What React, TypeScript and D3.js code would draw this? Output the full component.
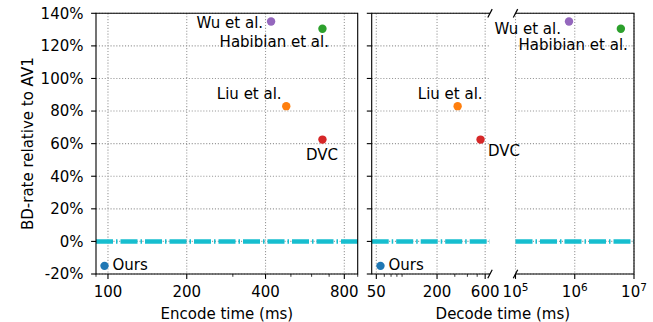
import * as d3 from "d3";

// data
const methods = ["Ours", "Liu et al.", "DVC", "Wu et al.", "Habibian et al."];
const colors = ["#1f77b4", "#ff7f0e", "#d62728", "#9467bd", "#2ca02c"];
const bdRate = [-15, 83, 62.5, 135, 130.5];
const encodeMs = [97, 480, 660, 420, 660];
const decodeMs = [55, 320, 540, 8e5, 6e6];

const yTicks = [-20, 0, 20, 40, 60, 80, 100, 120, 140];
const encMajor = [100, 200, 400, 800];
const encMinor = [90, 300, 500, 600, 700, 900];
const decLoMajor = [50, 200, 600];
const decLoMinor = [60, 70, 80, 90, 300, 400, 500];
const decHiMajor = [1e5, 1e6, 1e7];

// label placement (dx, baseline dy, anchor) per panel
const encLabels = [
  [8, 4, "start"],
  [-4.6, -7, "end"],
  [-0.5, 20.5, "middle"],
  [-8, 7, "end"],
  [6.5, 18, "end"],
];
const decLabels = [
  [8, 4, "start"],
  [25, -7, "end"],
  [7.5, 16.5, "start"],
  [-8, 13, "end"],
  [7, 21.5, "end"],
];

const W = 653;
const H = 322;
const top = 13.3;
const bottom = 274;
const font = "DejaVu Sans, sans-serif";
const fs = 15;
const gridColor = "#999";

const y = d3.scaleLinear().domain([-20, 140]).range([bottom, top]);
const encX = d3.scaleLog().domain([90, 900]).range([96, 357.7]);
const decLo = d3.scaleLog().domain([45, 670]).range([371.7, 490]);
const decHi = d3.scaleLog().domain([1e5, 1e7]).range([515.5, 634]);

const Grid = ({ x, majors }) => {
  const [x0, x1] = x.range();
  return (
    <g stroke={gridColor} strokeWidth={1.1} strokeDasharray="1.1 1.8">
      {yTicks.map((t) => (
        <line key={"h" + t} x1={x0} x2={x1} y1={y(t)} y2={y(t)} />
      ))}
      {majors.map((t) => (
        <line key={"v" + t} x1={x(t)} x2={x(t)} y1={top} y2={bottom} />
      ))}
    </g>
  );
};

const ZeroLine = ({ x }) => {
  const [x0, x1] = x.range();
  return (
    <line
      x1={x0}
      x2={x1}
      y1={y(0)}
      y2={y(0)}
      stroke="#17becf"
      strokeWidth={4.5}
      strokeDasharray="17 3 1.5 3"
    />
  );
};

const XTicks = ({ x, majors, minors = [], fmt }) => (
  <g>
    {majors.map((t) => (
      <g key={t}>
        <line x1={x(t)} x2={x(t)} y1={bottom} y2={bottom + 4.9} stroke="#000" strokeWidth={1.1} />
        <text x={x(t)} y={296.5} textAnchor="middle" fontSize={fs} fontFamily={font}>
          {fmt(t)}
        </text>
      </g>
    ))}
    {minors.map((t) => (
      <line key={"m" + t} x1={x(t)} x2={x(t)} y1={bottom} y2={bottom + 2.8} stroke="#000" strokeWidth={0.8} />
    ))}
  </g>
);

const YTicks = ({ x0, labels }) => (
  <g>
    {yTicks.map((t) => (
      <g key={t}>
        <line x1={x0 - 4.9} x2={x0} y1={y(t)} y2={y(t)} stroke="#000" strokeWidth={1.1} />
        {labels && (
          <text x={x0 - 12.5} y={y(t)} dy="0.36em" textAnchor="end" fontSize={fs} fontFamily={font}>
            {t + "%"}
          </text>
        )}
      </g>
    ))}
  </g>
);

const Points = ({ xs, x, place }) => (
  <g>
    {methods.map((m, i) => {
      const px = x(xs[i]);
      const py = y(bdRate[i]);
      const [dx, dy, anchor] = place[i];
      return (
        <g key={m}>
          <circle cx={px} cy={py} r={4.2} fill={colors[i]} />
          <text x={px + dx} y={py + dy} textAnchor={anchor} fontSize={fs} fontFamily={font}>
            {m}
          </text>
        </g>
      );
    })}
  </g>
);

const supFmt = (t) => (
  <>
    10
    <tspan fontSize={10.5} dy={-6}>
      {Math.round(Math.log10(t))}
    </tspan>
  </>
);

const BreakMark = ({ cx, cy }) => (
  <line x1={cx - 2.2} y1={cy + 4.2} x2={cx + 2.2} y2={cy - 4.2} stroke="#000" strokeWidth={1.2} />
);

export default function App() {
  const [e0, e1] = encX.range();
  const [l0, l1] = decLo.range();
  const [h0, h1] = decHi.range();
  // split points between the two broken sub-axes of the decode panel
  const decX = (v) => (v > 1e4 ? decHi(v) : decLo(v));

  return (
    <svg
      width={W}
      height={H}
      style={{ position: "absolute", left: 0, top: 0, background: "#fff" }}
    >
      {/* encode panel */}
      <Grid x={encX} majors={encMajor} />
      <ZeroLine x={encX} />
      <path
        d={`M${e0},${top}H${e1}V${bottom}H${e0}Z`}
        fill="none"
        stroke="#000"
        strokeWidth={1.1}
      />
      <YTicks x0={e0} labels />
      <XTicks x={encX} majors={encMajor} minors={encMinor} fmt={(t) => String(t)} />
      <Points xs={encodeMs} x={encX} place={encLabels} />

      {/* decode panel, broken axis */}
      <Grid x={decLo} majors={decLoMajor} />
      <Grid x={decHi} majors={decHiMajor} />
      <ZeroLine x={decLo} />
      <ZeroLine x={decHi} />
      <path
        d={`M${l1},${top}H${l0}V${bottom}H${l1}`}
        fill="none"
        stroke="#000"
        strokeWidth={1.1}
      />
      <path
        d={`M${h0},${top}H${h1}V${bottom}H${h0}`}
        fill="none"
        stroke="#000"
        strokeWidth={1.1}
      />
      <BreakMark cx={l1} cy={top} />
      <BreakMark cx={l1} cy={bottom} />
      <BreakMark cx={h0} cy={top} />
      <BreakMark cx={h0} cy={bottom} />
      <YTicks x0={l0} labels={false} />
      <XTicks x={decLo} majors={decLoMajor} minors={decLoMinor} fmt={(t) => String(t)} />
      <XTicks x={decHi} majors={decHiMajor} fmt={supFmt} />
      <Points xs={decodeMs} x={decX} place={decLabels} />

      {/* axis titles */}
      <text x={(e0 + e1) / 2} y={319} textAnchor="middle" fontSize={fs} fontFamily={font}>
        Encode time (ms)
      </text>
      <text x={(l0 + h1) / 2} y={319} textAnchor="middle" fontSize={fs} fontFamily={font}>
        Decode time (ms)
      </text>
      <text
        transform={`translate(33,${(top + bottom) / 2}) rotate(-90)`}
        textAnchor="middle"
        fontSize={fs}
        fontFamily={font}
      >
        BD-rate relative to AV1
      </text>
    </svg>
  );
}
